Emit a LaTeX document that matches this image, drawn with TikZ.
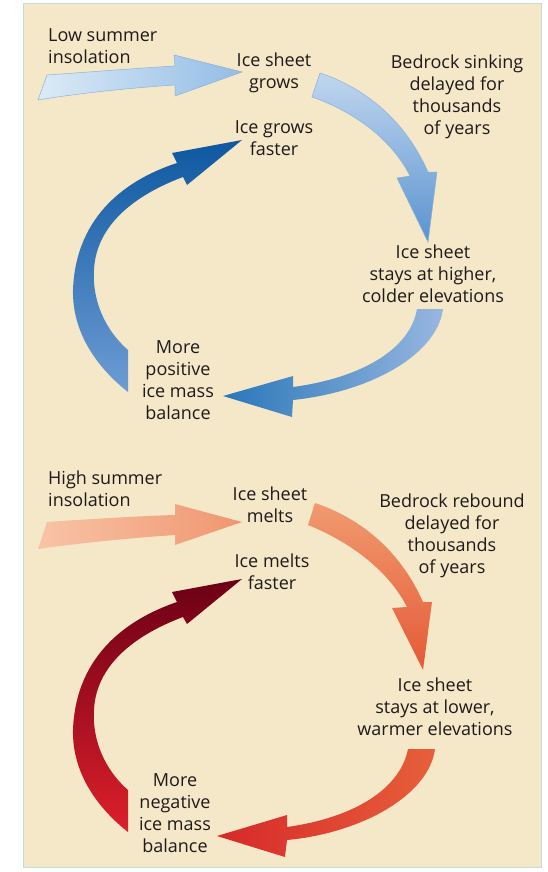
\documentclass[tikz,border=0pt]{standalone}
\usepackage{fontspec}
\setmainfont{Open Sans}
\usetikzlibrary{calc}

\definecolor{paper}{RGB}{245,232,200}
\definecolor{rim}{RGB}{196,220,218}
\definecolor{ink}{RGB}{30,26,27}
% blue cycle
\definecolor{binA}{HTML}{DCEAF6}
\definecolor{binB}{HTML}{93BDE6}
\definecolor{bedge}{HTML}{8AB2DC}
\definecolor{boneA}{HTML}{C0D6EF}
\definecolor{boneB}{HTML}{5A93CF}
\definecolor{btwoA}{HTML}{97B7E0}
\definecolor{btwoB}{HTML}{2A77B9}
\definecolor{bthrA}{HTML}{0D58A0}
\definecolor{bthrB}{HTML}{6E9CD4}
% red cycle
\definecolor{rinA}{HTML}{F8C4A6}
\definecolor{rinB}{HTML}{F09670}
\definecolor{roneA}{HTML}{F19A70}
\definecolor{roneB}{HTML}{E45A36}
\definecolor{rtwoA}{HTML}{E6603A}
\definecolor{rtwoB}{HTML}{D7282A}
\definecolor{rthrA}{HTML}{6C0016}
\definecolor{rthrB}{HTML}{DD1F2B}

\begin{document}
\begin{tikzpicture}[x=1pt,y=-1pt,
    lbl/.style={align=center,text=ink,inner sep=0pt,
      font=\fontsize{18}{22}\selectfont},
    lblL/.style={lbl,align=left,anchor=west}]
\useasboundingbox (0,0) rectangle (548,872);
\fill[white] (0,0) rectangle (548,872);
\filldraw[fill=paper,draw=rim,line width=1pt] (23,4) rectangle (541,867);

% growing ice sheet
\shadedraw[left color=binA,right color=binB,draw=bedge,line width=0.5pt]
  (38,100) -- (47,75) .. controls (90,72) and (140,68) .. (175,66)
  -- (174,55) -- (242,72) -- (175,96) -- (175,85)
  .. controls (130,88) and (80,93) .. (38,100) -- cycle;
\shadedraw[top color=boneA,bottom color=boneB,draw=bedge,line width=0.5pt]
  (320,73) .. controls (365,88) and (405,120) .. (428,172)
  -- (437,172) -- (428,242) -- (397,178) -- (410,176)
  .. controls (392,140) and (355,112) .. (312,97) -- cycle;
\shade[left color=btwoB,right color=btwoA]
  (417,309) -- (443,309) .. controls (437,355) and (370,392) .. (293,400)
  -- (292,417) -- (223,396) -- (293,376) -- (293,387)
  .. controls (360,378) and (410,350) .. (417,309) -- cycle;
\shade[top color=bthrA,bottom color=bthrB]
  (177,163) .. controls (110,185) and (75,230) .. (73,290)
  .. controls (72,335) and (100,370) .. (128,392) -- (128,350)
  .. controls (105,330) and (92,300) .. (94,270)
  .. controls (96,225) and (135,195) .. (183,177)
  -- (187,185) -- (242,140) -- (172,153) -- cycle;

\node[lblL] (low) at (48,46) {Low summer\\insolation};
\node[lbl] (grows) at (274,73) {Ice sheet\\grows};
\node[lbl] (sink) at (457,97) {Bedrock sinking\\delayed for\\thousands\\of years};
\node[lbl] (gfast) at (274,138) {Ice grows\\faster};
\node[lbl] (higher) at (433,274) {Ice sheet\\stays at higher,\\colder elevations};
\node[lbl] (pos) at (178,380) {More\\positive\\ice mass\\balance};

% melting ice sheet
\shade[left color=rinA,right color=rinB]
  (38,549) -- (47,522) .. controls (90,519) and (140,516) .. (175,515)
  -- (175,504) -- (242,522) -- (175,545) -- (175,535)
  .. controls (130,538) and (80,543) .. (38,549) -- cycle;
\shade[top color=roneA,bottom color=roneB]
  (315,503) .. controls (360,518) and (400,550) .. (423,602)
  -- (432,602) -- (423,670) -- (392,608) -- (407,607)
  .. controls (388,570) and (350,542) .. (308,525) -- cycle;
\shade[left color=rtwoB,right color=rtwoA]
  (408,749) -- (435,749) .. controls (429,795) and (362,833) .. (287,840)
  -- (285,857) -- (217,836) -- (287,815) -- (287,827)
  .. controls (352,818) and (400,790) .. (408,749) -- cycle;
\shade[top color=rthrA,bottom color=rthrB]
  (177,602) .. controls (110,625) and (75,670) .. (73,730)
  .. controls (72,775) and (100,810) .. (128,832) -- (128,790)
  .. controls (105,770) and (92,740) .. (94,710)
  .. controls (96,665) and (135,635) .. (183,617)
  -- (187,624) -- (242,579) -- (172,592) -- cycle;

\node[lblL] (high) at (48,489) {High summer\\insolation};
\node[lbl] (melts) at (270,505) {Ice sheet\\melts};
\node[lbl] (rebound) at (452,536) {Bedrock rebound\\delayed for\\thousands\\of years};
\node[lbl] (mfast) at (272,572) {Ice melts\\faster};
\node[lbl] (lower) at (435,707) {Ice sheet\\stays at lower,\\warmer elevations};
\node[lbl] (neg) at (175,813) {More\\negative\\ice mass\\balance};
\end{tikzpicture}
\end{document}
